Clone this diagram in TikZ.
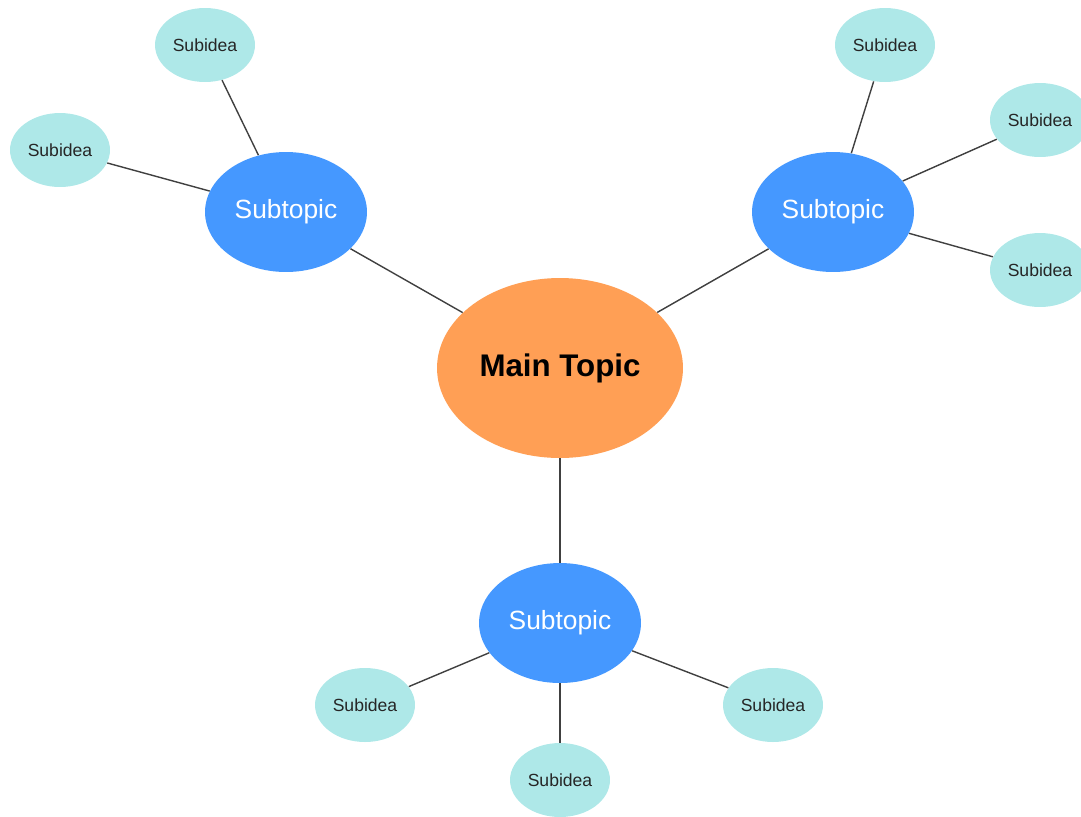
\documentclass[tikz,border=0pt]{standalone}
\usepackage{fontspec}
\setmainfont{Liberation Sans}
\usetikzlibrary{shapes.geometric}
\definecolor{mainorange}{HTML}{FF9F55}
\definecolor{subblue}{HTML}{4598FF}
\definecolor{ideacyan}{HTML}{AEE8E8}
\begin{document}
\begin{tikzpicture}[x=0.02cm,y=-0.02cm,
  main/.style={ellipse,fill=mainorange,minimum width=4.92cm,minimum height=3.6cm,inner sep=0pt,
    font=\bfseries\fontsize{17.8}{20}\selectfont},
  sub/.style={ellipse,fill=subblue,text=white,minimum width=3.24cm,minimum height=2.4cm,inner sep=0pt,
    font=\fontsize{15}{18}\selectfont},
  idea/.style={ellipse,fill=ideacyan,text=black!85,minimum width=2cm,minimum height=1.48cm,inner sep=0pt,
    font=\fontsize{10}{12}\selectfont},
  link/.style={draw=black!75,line width=0.8pt}]
  \useasboundingbox (0,0) rectangle (1081,816);
  \clip (0,0) rectangle (1081,816);
  % centre and the three branches
  \node[main] (main) at (560,368) {Main Topic};
  \node[sub] (left) at (286,212) {Subtopic};
  \node[sub] (right) at (833,212) {Subtopic};
  \node[sub] (bottom) at (560,623) {Subtopic};
  \foreach \s in {left,right,bottom}
    \draw[link] (main) -- (\s);
  % leaves
  \foreach \n/\x/\y/\s in {la/205/45/left, lb/60/150/left,
      ra/885/45/right, rb/1040/120/right, rc/1040/270/right,
      ba/365/705/bottom, bb/560/780/bottom, bc/773/705/bottom} {
    \node[idea] (\n) at (\x,\y) {Subidea};
    \draw[link] (\n) -- (\s);
  }
\end{tikzpicture}
\end{document}
